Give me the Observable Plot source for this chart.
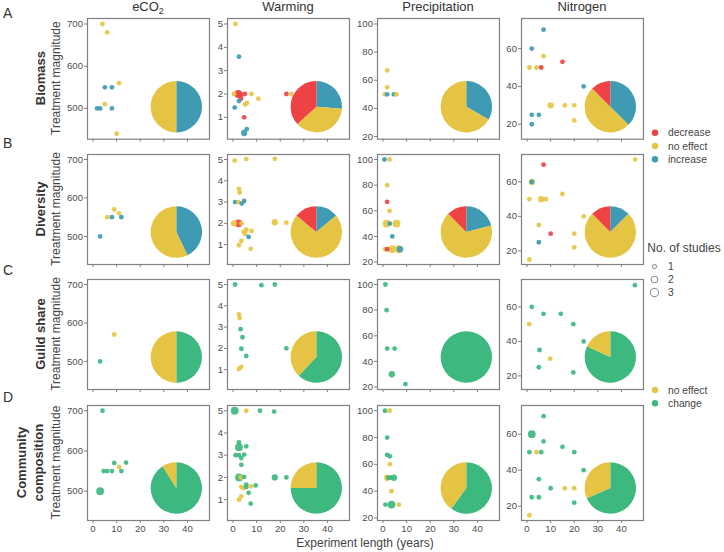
<!DOCTYPE html>
<html><head><meta charset="utf-8">
<script src="https://cdn.jsdelivr.net/npm/d3@7"></script>
<script src="https://cdn.jsdelivr.net/npm/@observablehq/plot@0.6"></script>
<style>
body{margin:0;background:#fff;}
#chart{position:relative;width:724px;height:552px;overflow:hidden;font-family:"Liberation Sans",Arial,sans-serif;}
#chart svg{position:absolute;}
</style></head><body><div id="chart"></div>
<script>
// ---------- labels & ticks ----------
const columns = ["eCO2", "Warming", "Precipitation", "Nitrogen"];
const rowLabels = [["Biomass"], ["Diversity"], ["Guild share"], ["Community", "composition"]];
const panelLetters = ["A", "B", "C", "D"];
const xTicks = [0, 10, 20, 30, 40];
const yTicksECO2 = [500, 600, 700];
const yTicksWarming = [1, 2, 3, 4, 5];
const yTicksPrecip = [20, 40, 60, 80, 100];
const yTicksNitrogen = [20, 40, 60];
const effects3 = ["decrease", "no effect", "increase"];
const effects2 = ["no effect", "change"];
const studyCounts = [1, 2, 3];

// ---------- points: [experiment length, treatment magnitude, effect, no. of studies] ----------
const biomassECO2 = [[4,700,"no effect",1],[6,680,"no effect",1],[5,550,"increase",1],[8,550,"increase",1],[11,560,"no effect",1],[5,510,"no effect",1],[1.7,500,"increase",1],[3,500,"increase",1],[8,500,"increase",1],[10,440,"no effect",1]];
const biomassWarming = [[1,5,"no effect",1],[2.5,3.6,"increase",1],[0.4,2,"no effect",1],[2.2,2,"decrease",3],[3,1.97,"decrease",2],[5,2,"decrease",1],[3.4,1.8,"decrease",1],[2.5,1.7,"increase",1],[7.8,2,"no effect",1],[10.7,1.8,"no effect",1],[5.1,1.55,"no effect",1],[5.9,1.62,"no effect",1],[0.7,1.42,"increase",1],[4.7,1.0,"decrease",1],[4.7,0.33,"increase",2],[5.8,0.5,"increase",1],[22.6,2,"decrease",1],[24.7,2,"no effect",1]];
const biomassPrecip = [[1.75,67,"no effect",1],[1.75,55,"no effect",1],[0.8,50,"no effect",1],[1.75,50,"increase",1],[4.6,50,"increase",1],[5.7,50,"no effect",1]];
const biomassNitrogen = [[7,70,"increase",1],[2,60,"increase",1],[7,56,"no effect",1],[1,50,"no effect",1],[4,50,"no effect",1],[6,50,"decrease",1],[15,53,"decrease",1],[24,40,"increase",1],[10,30,"no effect",2],[16,30,"no effect",1],[20,30,"no effect",1],[20,22,"no effect",1],[2,25,"increase",1],[5,25,"increase",1],[2,20,"increase",1]];

const diversityECO2 = [[6,550,"no effect",1],[8,550,"increase",1],[9,570,"no effect",1],[11,560,"no effect",1],[12,550,"increase",1],[3,500,"increase",1]];
const diversityWarming = [[0.7,4.95,"no effect",1],[5.6,5.02,"no effect",1],[17.7,5.03,"no effect",1],[2.5,3.62,"no effect",1],[2.8,3.45,"no effect",1],[0.85,3,"increase",1],[2.3,3,"no effect",1],[3.7,2.93,"increase",1],[4.7,3.05,"increase",1],[0.4,2,"no effect",2],[2.3,2,"decrease",3],[3.6,2,"no effect",1],[17.7,2.05,"no effect",2],[22.6,2.03,"no effect",1],[5.6,1.7,"no effect",1],[4.5,1.6,"no effect",1],[5.2,1.5,"no effect",1],[7.8,1.64,"no effect",1],[6.6,1.36,"increase",1],[3.5,1.17,"no effect",1],[2.5,0.97,"no effect",1],[7.5,0.8,"no effect",1]];
const diversityPrecip = [[0.6,100,"increase",1],[2.75,100,"no effect",1],[1.75,80,"no effect",1],[1.75,67,"decrease",1],[2.75,60,"no effect",1],[1.5,50,"no effect",3],[2.9,50,"increase",1],[5.7,50,"no effect",3],[3.9,40,"increase",1],[0.9,30,"no effect",1],[1.75,30,"decrease",1],[3.9,30,"no effect",3],[7.2,30,"increase",2],[6.7,30,"no effect",3]];
const diversityNitrogen = [[7,70,"decrease",1],[45.8,73,"no effect",1],[2,60,"no effect",2],[2,60,"increase",1],[1,50,"no effect",1],[6,50,"no effect",2],[8,50,"no effect",1],[15,53,"no effect",1],[24,40,"no effect",1],[5,35,"no effect",1],[10,30,"decrease",1],[20,30,"no effect",1],[5,25,"increase",1],[20,22,"no effect",1],[1,15,"no effect",1]];

const guildECO2 = [[9,570,"no effect",1],[3,500,"change",1]];
const guildWarming = [[0.85,5,"change",1],[12,4.97,"change",1],[17.7,5,"change",1],[2.5,3.6,"no effect",1],[2.8,3.43,"no effect",1],[3.2,2.9,"change",1],[4,2.52,"change",1],[3.5,1.98,"change",1],[5.6,1.64,"change",1],[22.6,2,"change",1],[3.5,1.13,"no effect",1],[2.5,1.03,"no effect",1]];
const guildPrecip = [[1,100,"change",1],[1.5,80,"change",1],[1.75,50,"change",1],[4.9,50,"change",1],[3.7,30,"change",2],[9.5,22.3,"change",1]];
const guildNitrogen = [[45.7,72.6,"change",1],[2,60,"change",1],[7,56,"change",1],[14.3,56,"change",1],[19.6,50,"change",1],[24,40,"change",1],[0.9,50,"no effect",1],[5.3,35,"change",1],[9.8,30,"no effect",1],[5,25,"change",1],[19.6,22,"change",1]];

const communityECO2 = [[4,700,"change",1],[9,570,"change",1],[14,571,"change",1],[4.5,550,"change",1],[6,550,"change",1],[8,550,"change",1],[11,560,"no effect",1],[12,550,"change",1],[3,500,"change",3]];
const communityWarming = [[0.7,5,"change",3],[5.6,5,"no effect",1],[11.4,5,"change",1],[17.4,4.96,"change",1],[2.5,3.58,"change",1],[2.5,3.36,"change",3],[5.6,3.4,"change",1],[1.1,3,"change",1],[2.5,3,"change",1],[4.7,3.03,"change",1],[3.5,2.87,"change",1],[3.5,2.57,"change",1],[2.5,2,"change",3],[3.2,2,"no effect",1],[4.7,2.03,"change",1],[17.7,2,"change",2],[22.6,2,"change",1],[3.5,1.58,"no effect",1],[4.4,1.52,"no effect",1],[5.6,1.68,"change",1],[5.6,1.57,"change",1],[7.6,1.6,"no effect",1],[9.6,1.64,"change",1],[6.6,1.31,"change",1],[3.5,1.15,"no effect",1],[2.5,1,"no effect",1],[7.5,0.82,"change",1]];
const communityPrecip = [[0.8,100,"change",1],[2.75,100,"no effect",1],[1.75,80,"change",1],[1.75,67,"change",1],[2.9,66,"change",1],[2.9,60,"no effect",1],[1.75,50,"no effect",2],[2.2,50,"change",1],[3.2,50,"change",1],[4.6,50,"change",2],[3.6,40,"no effect",1],[1,30,"change",1],[3.6,30,"change",3],[6.7,30,"no effect",1]];
const communityNitrogen = [[7,70,"change",1],[2,60,"change",3],[7,56,"change",1],[15,53,"change",1],[1,50,"change",1],[4,50,"no effect",1],[6,50,"change",1],[20,50,"change",1],[24,40,"change",1],[5,35,"change",1],[10,30,"change",1],[16,30,"no effect",1],[20,30,"no effect",1],[2,25,"change",1],[5,25,"change",1],[20,22,"change",1],[1,15,"no effect",1]];

// ---------- pie shares (clockwise from 12 o'clock) ----------
const pieOrder3 = ["increase", "no effect", "decrease"];
const pieOrder2 = ["change", "no effect"];
const pieBiomass = [[5,5,0],[5,7,7],[2,4,0],[3,4,1]];
const pieDiversity = [[3,4,0],[0.14,0.72,0.14],[0.21,0.665,0.125],[1,6,1]];
const pieGuild = [[1,1],[0.62,0.38],[1,0],[9,2]];
const pieCommunity = [[0.91,0.09],[0.75,0.25],[0.6,0.4],[0.684,0.316]];

// ---------- styling / layout ----------
const colorRed = "#EE4245", colorYellow = "#E6C443", colorBlue = "#3E9BB3", colorGreen = "#3DB87F";
const font = "Liberation Sans, Arial, sans-serif";
const textColor = "#4d4d4d", axisGrey = "#808080";
const colLeft = [87, 227, 377, 521];
const panelW = 122;
const rowTop = [17.8, 154, 279, 405];
const rowH = [120.7, 110, 110, 115];
const xDomain = [-2.35, 49.35];
const yDomains = [[427, 713], [0.065, 5.235], [18.1, 103.9], [12.1, 75.9]];
const yTickSets = [yTicksECO2, yTicksWarming, yTicksPrecip, yTicksNitrogen];
const pieX = 35.5, pieR = 25.7, pieLift = 32;

const rowPoints = [
  [biomassECO2, biomassWarming, biomassPrecip, biomassNitrogen],
  [diversityECO2, diversityWarming, diversityPrecip, diversityNitrogen],
  [guildECO2, guildWarming, guildPrecip, guildNitrogen],
  [communityECO2, communityWarming, communityPrecip, communityNitrogen]
];
const rowPies = [pieBiomass, pieDiversity, pieGuild, pieCommunity];

const chart = document.getElementById("chart");

function pieMark(shares, order) {
  return (index, scales, values, dims) => {
    const cx = scales.x(pieX);
    const cy = dims.height - dims.marginBottom - pieLift;
    const arcs = d3.pie().sort(null).value(d => d.v)(shares.map((v, i) => ({v, k: order[i]})));
    const arc = d3.arc().innerRadius(0).outerRadius(pieR);
    const g = d3.create("svg:g").attr("transform", `translate(${cx},${cy})`);
    g.selectAll("path").data(arcs.filter(a => a.data.v > 0)).join("path")
      .attr("d", arc).attr("fill", d => scales.color(d.data.k));
    return g.node();
  };
}

for (let r = 0; r < 4; r++) {
  const three = r < 2;
  const domain = three ? effects3 : effects2;
  const range = three ? [colorRed, colorYellow, colorBlue] : [colorYellow, colorGreen];
  for (let c = 0; c < 4; c++) {
    const ml = 30, mr = 2, mt = 2, mb = r === 3 ? 18 : 8;
    const svg = Plot.plot({
      width: ml + panelW + mr,
      height: mt + rowH[r] + mb,
      marginLeft: ml, marginRight: mr, marginTop: mt, marginBottom: mb,
      x: {domain: xDomain},
      y: {domain: yDomains[c]},
      r: {type: "linear", domain: [1, 3], range: [2.4, 3.9]},
      color: {domain, range},
      style: {background: "transparent", fontFamily: font, fontSize: "9.6px", color: textColor, overflow: "visible"},
      marks: [
        pieMark(rowPies[r][c], three ? pieOrder3 : pieOrder2),
        Plot.dot(rowPoints[r][c], {x: d => d[0], y: d => d[1], fill: d => d[2], r: d => d[3], fillOpacity: 0.92}),
        Plot.frame({stroke: axisGrey, strokeWidth: 1.2}),
        Plot.axisY(yTickSets[c], {tickSize: 3, tickPadding: 1.5, stroke: axisGrey, fill: textColor, fontSize: 9.6, label: null}),
        Plot.axisX(xTicks, {tickSize: 3, tickPadding: 2, stroke: axisGrey, fill: textColor, fontSize: 9.6, label: null,
          tickFormat: r === 3 ? (d => String(d)) : (() => "")})
      ]
    });
    svg.style.left = (colLeft[c] - ml) + "px";
    svg.style.top = (rowTop[r] - mt) + "px";
    chart.appendChild(svg);
  }
}

// ---------- overlay: titles, labels, legends ----------
const ov = d3.create("svg").attr("width", 724).attr("height", 552)
  .style("left", "0px").style("top", "0px").style("pointer-events", "none")
  .attr("font-family", font);

// column titles
columns.forEach((name, c) => {
  const t = ov.append("text").attr("x", colLeft[c] + panelW / 2).attr("y", 11)
    .attr("text-anchor", "middle").attr("font-size", 13).attr("fill", "#333");
  if (name === "eCO2") {
    t.append("tspan").text("eCO");
    t.append("tspan").text("2").attr("font-size", 9).attr("dy", 3);
  } else t.text(name);
});

// panel letters
const letterBase = [18, 148, 275, 401.7];
panelLetters.forEach((L, r) => {
  ov.append("text").attr("x", 3).attr("y", letterBase[r]).attr("font-size", 14).attr("fill", "#333").text(L);
});

// row labels + y titles
rowLabels.forEach((lines, r) => {
  const cy = rowTop[r] + rowH[r] / 2;
  const bases = lines.length === 1 ? [44.5] : [26, 43];
  lines.forEach((ln, i) => {
    ov.append("text").attr("transform", `translate(${bases[i]},${cy}) rotate(-90)`)
      .attr("text-anchor", "middle").attr("font-size", 13).attr("font-weight", "bold").attr("fill", "#333").text(ln);
  });
  ov.append("text").attr("transform", `translate(59.5,${cy}) rotate(-90)`)
    .attr("text-anchor", "middle").attr("font-size", 12).attr("fill", "#444").text("Treatment magnitude");
});

// x title
ov.append("text").attr("x", 365).attr("y", 547).attr("text-anchor", "middle")
  .attr("font-size", 12).attr("fill", "#444").text("Experiment length (years)");

// legend: effects (3)
const leg3Colors = [colorRed, colorYellow, colorBlue];
effects3.forEach((e, i) => {
  const y = 132.7 + i * 13.3;
  ov.append("circle").attr("cx", 655).attr("cy", y).attr("r", 3.2).attr("fill", leg3Colors[i]);
  ov.append("text").attr("x", 668).attr("y", y + 3.6).attr("font-size", 10.3).attr("fill", "#444").text(e);
});

// legend: size
ov.append("text").attr("x", 647.3).attr("y", 252).attr("font-size", 12).attr("fill", "#444").text("No. of studies");
const sizeR = [2.1, 3.4, 4.2];
const sizeY = [266.5, 279.5, 292.5];
studyCounts.forEach((n, i) => {
  ov.append("circle").attr("cx", 654.5).attr("cy", sizeY[i]).attr("r", sizeR[i])
    .attr("fill", "white").attr("stroke", "#666").attr("stroke-width", 0.8);
  ov.append("text").attr("x", 668).attr("y", sizeY[i] + 3.6).attr("font-size", 10.3).attr("fill", "#444").text(String(n));
});

// legend: effects (2)
const leg2Colors = [colorYellow, colorGreen];
effects2.forEach((e, i) => {
  const y = 390 + i * 13.3;
  ov.append("circle").attr("cx", 655).attr("cy", y).attr("r", 3.2).attr("fill", leg2Colors[i]);
  ov.append("text").attr("x", 668).attr("y", y + 3.6).attr("font-size", 10.3).attr("fill", "#444").text(e);
});

chart.appendChild(ov.node());
</script>
</body></html>
